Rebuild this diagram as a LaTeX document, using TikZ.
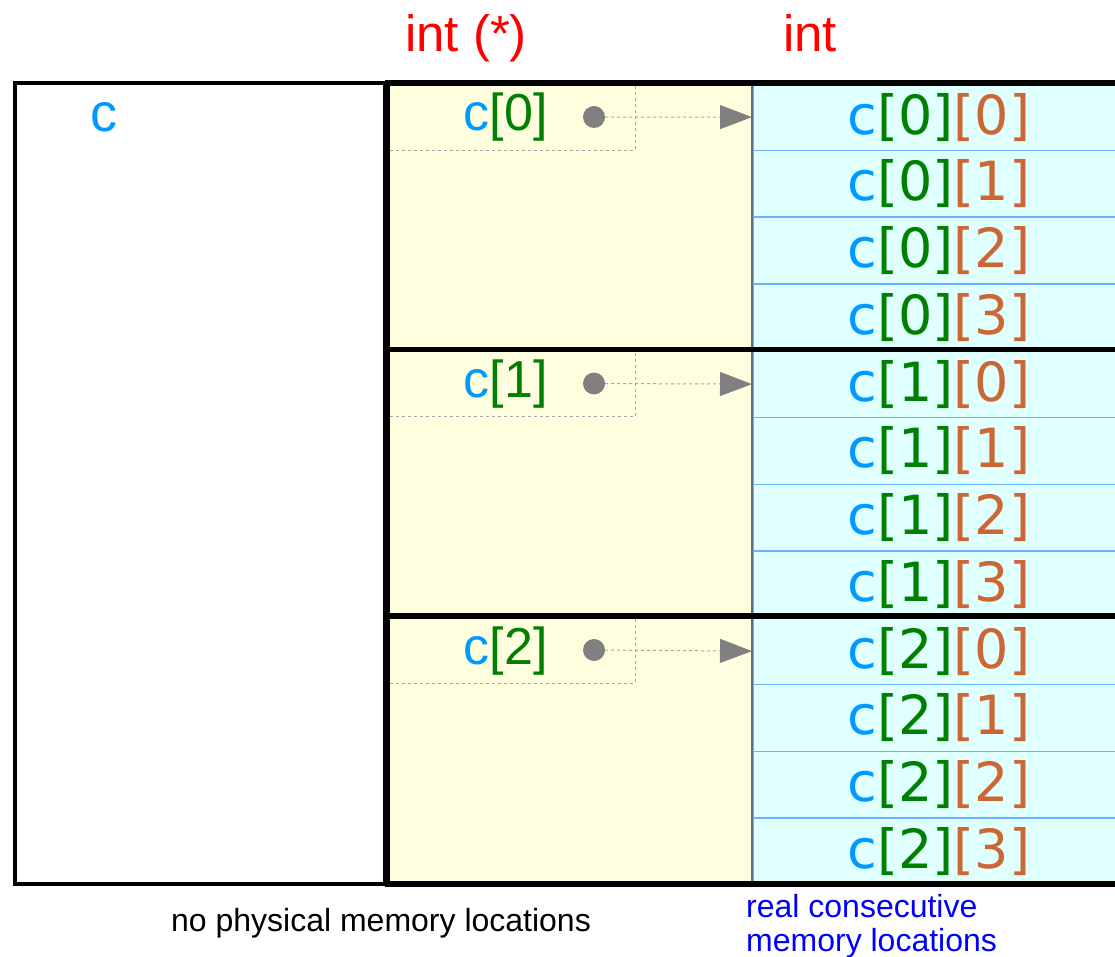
\documentclass[tikz,border=0pt]{standalone}
\usepackage{fontspec}
\setmainfont{Liberation Sans}
\newfontfamily\cellfont{DejaVu Sans}
\usetikzlibrary{arrows.meta,positioning}
\definecolor{cblue}{RGB}{0,153,255}
\definecolor{igreen}{RGB}{0,128,0}
\definecolor{jorange}{RGB}{204,102,51}
\definecolor{ptrfill}{RGB}{255,255,224}
\definecolor{intfill}{RGB}{224,255,255}
\definecolor{rowline}{RGB}{102,180,255}
\definecolor{divline}{RGB}{90,110,140}
\begin{document}
\begin{tikzpicture}
		[x=1pt,y=-1pt,
		cell/.style={draw=rowline,line width=1.5pt,fill=intfill,minimum width=372pt,minimum height=66.75pt,inner sep=0pt,anchor=north west,font=\cellfont\fontsize{54}{60}\selectfont},
		ptr/.style={inner sep=0pt,anchor=base east,font=\fontsize{52}{60}\selectfont},
		mydot/.style={circle,fill=gray,minimum size=22pt,inner sep=0pt},
		guide/.style={draw=gray!70,dashed,line width=1pt},
		bar/.style={line width=5.5pt},
		title/.style={inner sep=0pt,anchor=base,text=red,font=\fontsize{51}{60}\selectfont},
		note/.style={inner sep=0pt,font=\fontsize{32}{34}\selectfont}]
		\useasboundingbox (0,0) rectangle (1115,957);
		% array c
		\draw[line width=3.5pt,fill=white] (15,83) rectangle (385,884);
		\node[inner sep=0pt,anchor=base,text=cblue,font=\fontsize{54}{60}\selectfont] (c) at (104,132) {c};
		% int (*) column
		\fill[ptrfill] (385,83) rectangle (752,884);
		% int cells
		\foreach \i in {0,1,2}
		{
			\foreach \j in {0,...,3}
			{
				\node[cell] (c\i\j) at (752,{83+(4*\i+\j)*66.75})
					{\textcolor{cblue}{c}\textcolor{igreen}{[\i]}\textcolor{jorange}{[\j]}};
			}
		}
		\draw[divline,line width=1.5pt] (752,83) -- (752,884);
		\foreach \y in {83,349.5,616,884}
		{
			\draw[bar] (385,\y) -- (1115,\y);
		}
		\draw[bar] (387,83) -- (387,884);
		% pointers
		\foreach \i/\y in {0/117,1/383.5,2/650}
		{
			\draw[guide] (390,\y+33.4) -| (635,\y-31);
			\node[ptr] (p\i) at (548,\y+14)
				{\textcolor{cblue}{c}\textcolor{igreen}{[\i]}};
			\node[mydot] (d\i) at (594,\y) {};
			\draw[guide,-{Triangle[length=32pt,width=24pt,color=gray]}] (d\i) -- (c\i0.west);
		}
		% titles
		\node[title] (tptr) at (466,52) {int (*)};
		\node[title] (tint) at (810,52) {int};
		\node[note,anchor=base] (nophys) at (381,931) {no physical memory locations};
		\node[note,anchor=base west,text=blue] (real1) at (746,917) {real consecutive};
		\node[note,anchor=base west,text=blue] (real2) at (746,951) {memory locations};
	\end{tikzpicture}
\end{document}
